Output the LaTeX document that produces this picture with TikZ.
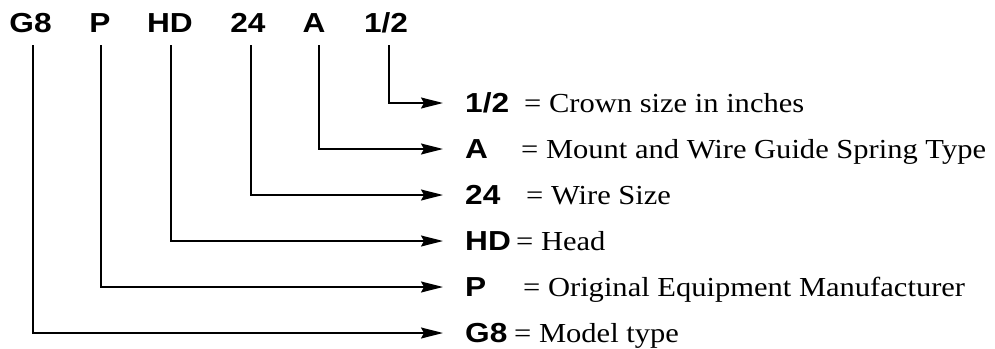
\documentclass[tikz,border=0pt]{standalone}
\usepackage{fontspec}
\setmainfont{Liberation Serif}[FakeStretch=1.11]
\newfontfamily\labfont{Liberation Sans}[FakeStretch=1.15]
\usetikzlibrary{arrows.meta}
\begin{document}
\begin{tikzpicture}[x=1pt,y=-1pt,
  toplab/.style={font=\labfont\bfseries\fontsize{27.5}{30}\selectfont, inner sep=0pt, text height=19.7pt, text depth=0pt},
  keylab/.style={font=\labfont\bfseries\fontsize{27.5}{30}\selectfont, inner sep=0pt, text height=19.7pt, text depth=0pt, anchor=west},
  desc/.style={font=\fontsize{27.5}{30}\selectfont, inner sep=0pt, anchor=base west},
  conn/.style={line width=1.6pt, -{Stealth[length=22pt,width=11pt,inset=3pt]}}]
\useasboundingbox (0,0) rectangle (995,348);
% top code
\node[toplab] (tG8) at (30.5,23) {G8};
\node[toplab] (tP) at (100,23) {P};
\node[toplab] (tHD) at (170,23) {HD};
\node[toplab] (t24) at (248,23) {24};
\node[toplab] (tA) at (314,23) {A};
\node[toplab] (tH) at (386,23) {1/2};
% right keys
\node[keylab] (rH) at (465,103) {1/2};
\node[keylab] (rA) at (465,149) {A};
\node[keylab] (r24) at (465,195) {24};
\node[keylab] (rHD) at (465,241) {HD};
\node[keylab] (rP) at (465,287) {P};
\node[keylab] (rG8) at (465,333) {G8};
% descriptions
\node[desc] (dH) at (524,112.5) {= Crown size in inches};
\node[desc] (dA) at (521,158.5) {= Mount and Wire Guide Spring Type};
\node[desc] (d24) at (526,204.5) {= Wire Size};
\node[desc] (dHD) at (516,250.5) {= Head};
\node[desc] (dP) at (523,296.5) {= Original Equipment Manufacturer};
\node[desc] (dG8) at (514,342.5) {= Model type};
% connectors
\draw[conn] ([xshift=2.2pt,yshift=-12pt]tG8.south) |- ([xshift=-22pt]rG8.west);
\draw[conn] ([xshift=0.7pt,yshift=-12pt]tP.south) |- ([xshift=-22pt]rP.west);
\draw[conn] ([xshift=0.7pt,yshift=-12pt]tHD.south) |- ([xshift=-22pt]rHD.west);
\draw[conn] ([xshift=2.7pt,yshift=-12pt]t24.south) |- ([xshift=-22pt]r24.west);
\draw[conn] ([xshift=5pt,yshift=-12pt]tA.south) |- ([xshift=-22pt]rA.west);
\draw[conn] ([xshift=3pt,yshift=-12pt]tH.south) |- ([xshift=-22pt]rH.west);
\end{tikzpicture}
\end{document}
